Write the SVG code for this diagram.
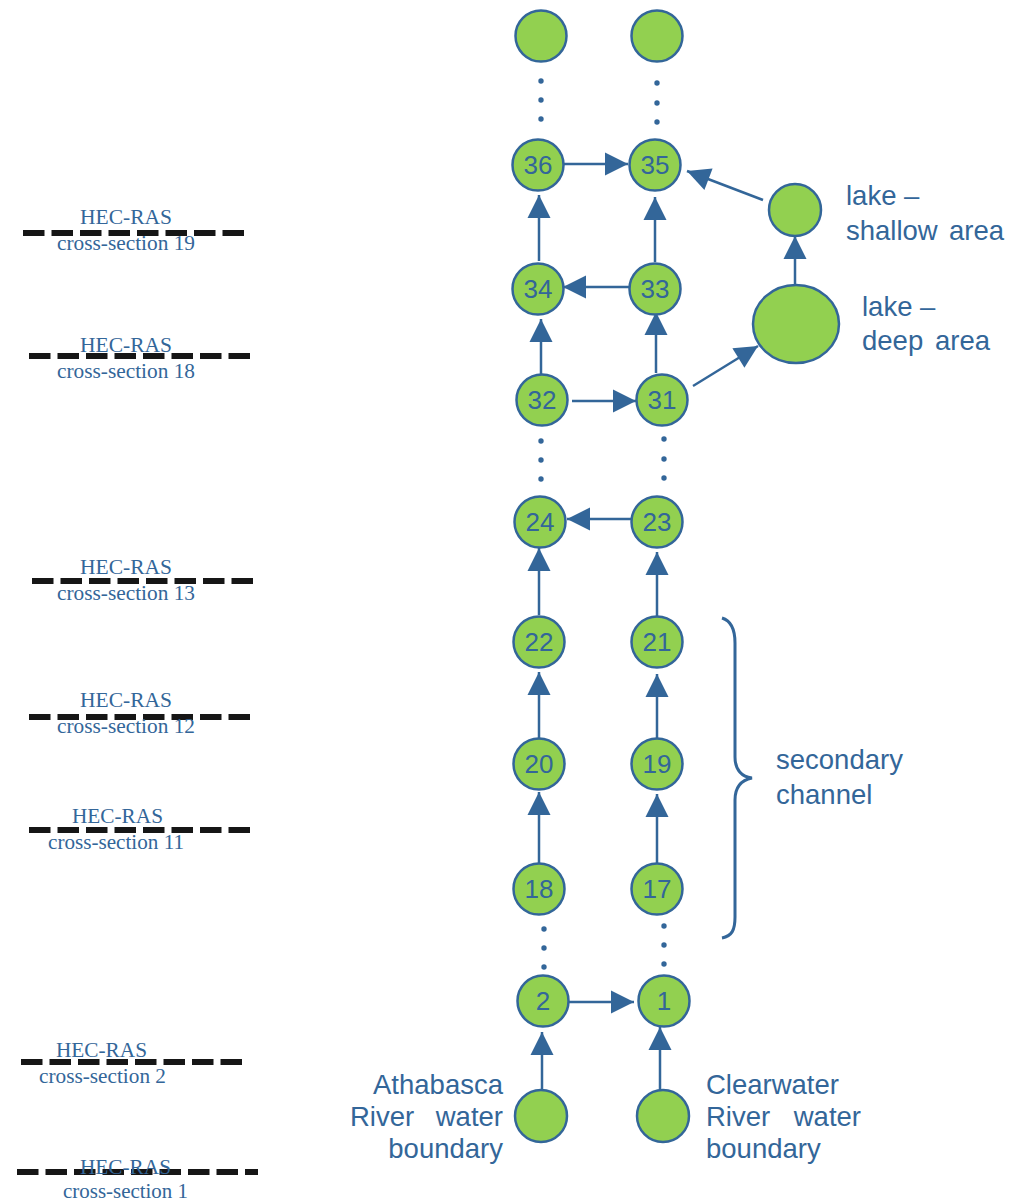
<svg xmlns="http://www.w3.org/2000/svg" width="1019" height="1203" viewBox="0 0 1019 1203">
<style>
.n{fill:#92D050;stroke:#336699;stroke-width:2.5}
.num{font-family:"Liberation Sans",Arial,sans-serif;font-size:26px;fill:#336699;text-anchor:middle}
.lbl{font-family:"Liberation Sans",Arial,sans-serif;font-size:27.5px;fill:#336699}
.hec{font-family:"Liberation Serif","Times New Roman",serif;font-size:20px;fill:#336699}
.cs{stroke:#161616;stroke-width:6;stroke-dasharray:21.5 7;fill:none}
.c{stroke:#336699;stroke-width:2.5;fill:none;marker-end:url(#ah)}
.dot{fill:#336699}
.brace{stroke:#336699;stroke-width:3;fill:none}
</style>
<defs>
<marker id="ah" markerUnits="userSpaceOnUse" markerWidth="24" markerHeight="24" viewBox="0 0 23 24" refX="23" refY="12" orient="auto">
<path d="M0,0.5 L23,12 L0,23.5 z" fill="#336699"/>
</marker>
</defs>
<rect width="1019" height="1203" fill="#fff"/>

<g id="cross-sections">
<line class="cs" x1="23" y1="233" x2="246" y2="233"/>
<text class="hec" x="80" y="224" textLength="92" lengthAdjust="spacingAndGlyphs">HEC-RAS</text>
<text class="hec" x="57" y="250" textLength="138" lengthAdjust="spacingAndGlyphs">cross-section 19</text>
<line class="cs" x1="29" y1="356" x2="251" y2="356"/>
<text class="hec" x="80" y="352" textLength="92" lengthAdjust="spacingAndGlyphs">HEC-RAS</text>
<text class="hec" x="57" y="378" textLength="138" lengthAdjust="spacingAndGlyphs">cross-section 18</text>
<line class="cs" x1="32" y1="581" x2="254" y2="581"/>
<text class="hec" x="80" y="574" textLength="92" lengthAdjust="spacingAndGlyphs">HEC-RAS</text>
<text class="hec" x="57" y="600" textLength="138" lengthAdjust="spacingAndGlyphs">cross-section 13</text>
<line class="cs" x1="29" y1="717" x2="251" y2="717"/>
<text class="hec" x="80" y="707" textLength="92" lengthAdjust="spacingAndGlyphs">HEC-RAS</text>
<text class="hec" x="57" y="733" textLength="138" lengthAdjust="spacingAndGlyphs">cross-section 12</text>
<line class="cs" x1="29" y1="830" x2="251" y2="830"/>
<text class="hec" x="72" y="823" textLength="91" lengthAdjust="spacingAndGlyphs">HEC-RAS</text>
<text class="hec" x="48" y="849" textLength="136" lengthAdjust="spacingAndGlyphs">cross-section 11</text>
<line class="cs" x1="21" y1="1062" x2="242" y2="1062"/>
<text class="hec" x="56" y="1057" textLength="91" lengthAdjust="spacingAndGlyphs">HEC-RAS</text>
<text class="hec" x="39" y="1083" textLength="127" lengthAdjust="spacingAndGlyphs">cross-section 2</text>
<line class="cs" x1="17" y1="1172" x2="258" y2="1172"/>
<text class="hec" x="80" y="1174" textLength="91" lengthAdjust="spacingAndGlyphs">HEC-RAS</text>
<text class="hec" x="63" y="1198" textLength="125" lengthAdjust="spacingAndGlyphs">cross-section 1</text>
</g>

<g id="connectors">
<line class="c" x1="564" y1="164" x2="628" y2="164"/>
<line class="c" x1="763" y1="200" x2="687" y2="171"/>
<line class="c" x1="539" y1="261" x2="539" y2="195"/>
<line class="c" x1="655" y1="262" x2="655" y2="197"/>
<line class="c" x1="629" y1="287" x2="563" y2="287"/>
<line class="c" x1="795" y1="285" x2="795" y2="236"/>
<line class="c" x1="541" y1="387" x2="541" y2="319"/>
<line class="c" x1="656" y1="373" x2="656" y2="312"/>
<line class="c" x1="572" y1="401" x2="636" y2="401"/>
<line class="c" x1="693" y1="386" x2="758" y2="346"/>
<line class="c" x1="632" y1="519" x2="567" y2="519"/>
<line class="c" x1="539" y1="615" x2="539" y2="548"/>
<line class="c" x1="657" y1="617" x2="657" y2="552"/>
<line class="c" x1="539" y1="738" x2="539" y2="672"/>
<line class="c" x1="657" y1="738" x2="657" y2="674"/>
<line class="c" x1="539" y1="863" x2="539" y2="792"/>
<line class="c" x1="657" y1="863" x2="657" y2="794"/>
<line class="c" x1="569" y1="1002" x2="634" y2="1002"/>
<line class="c" x1="542" y1="1090" x2="542" y2="1032"/>
<line class="c" x1="660" y1="1090" x2="660" y2="1027"/>
</g>

<g id="ellipsis-dots">
<circle class="dot" cx="541" cy="81" r="2.7"/><circle class="dot" cx="541" cy="100" r="2.7"/><circle class="dot" cx="541" cy="119" r="2.7"/>
<circle class="dot" cx="657" cy="83" r="2.7"/><circle class="dot" cx="657" cy="103" r="2.7"/><circle class="dot" cx="657" cy="122" r="2.7"/>
<circle class="dot" cx="541" cy="441" r="2.7"/><circle class="dot" cx="541" cy="460" r="2.7"/><circle class="dot" cx="541" cy="479" r="2.7"/>
<circle class="dot" cx="664" cy="439" r="2.7"/><circle class="dot" cx="664" cy="459" r="2.7"/><circle class="dot" cx="664" cy="478" r="2.7"/>
<circle class="dot" cx="544" cy="929" r="2.7"/><circle class="dot" cx="544" cy="948" r="2.7"/><circle class="dot" cx="544" cy="967" r="2.7"/>
<circle class="dot" cx="664" cy="926" r="2.7"/><circle class="dot" cx="664" cy="945" r="2.7"/><circle class="dot" cx="664" cy="964" r="2.7"/>
</g>

<g id="node-top-left"><circle class="n" cx="541" cy="36" r="25.5"/></g>
<g id="node-top-right"><circle class="n" cx="657" cy="36" r="25.5"/></g>
<g id="node-36"><circle class="n" cx="538" cy="165" r="25.5"/><text class="num" x="538" y="174">36</text></g>
<g id="node-35"><circle class="n" cx="655" cy="165" r="25.5"/><text class="num" x="655" y="174">35</text></g>
<g id="node-lake-shallow"><circle class="n" cx="795" cy="210" r="26"/></g>
<g id="node-34"><circle class="n" cx="538" cy="289" r="25.5"/><text class="num" x="538" y="298">34</text></g>
<g id="node-33"><circle class="n" cx="655" cy="289" r="25.5"/><text class="num" x="655" y="298">33</text></g>
<g id="node-lake-deep"><ellipse class="n" cx="796" cy="324" rx="43" ry="39"/></g>
<g id="node-32"><circle class="n" cx="542" cy="400" r="25.5"/><text class="num" x="542" y="409">32</text></g>
<g id="node-31"><circle class="n" cx="662" cy="400" r="25.5"/><text class="num" x="662" y="409">31</text></g>
<g id="node-24"><circle class="n" cx="540" cy="522" r="25.5"/><text class="num" x="540" y="531">24</text></g>
<g id="node-23"><circle class="n" cx="657" cy="522" r="25.5"/><text class="num" x="657" y="531">23</text></g>
<g id="node-22"><circle class="n" cx="539" cy="642" r="25.5"/><text class="num" x="539" y="651">22</text></g>
<g id="node-21"><circle class="n" cx="657" cy="642" r="25.5"/><text class="num" x="657" y="651">21</text></g>
<g id="node-20"><circle class="n" cx="539" cy="764" r="25.5"/><text class="num" x="539" y="773">20</text></g>
<g id="node-19"><circle class="n" cx="657" cy="764" r="25.5"/><text class="num" x="657" y="773">19</text></g>
<g id="node-18"><circle class="n" cx="539" cy="889" r="25.5"/><text class="num" x="539" y="898">18</text></g>
<g id="node-17"><circle class="n" cx="657" cy="889" r="25.5"/><text class="num" x="657" y="898">17</text></g>
<g id="node-2"><circle class="n" cx="543" cy="1001" r="25.5"/><text class="num" x="543" y="1010">2</text></g>
<g id="node-1"><circle class="n" cx="664" cy="1001" r="25.5"/><text class="num" x="664" y="1010">1</text></g>
<g id="node-athabasca-boundary"><circle class="n" cx="541" cy="1116" r="26"/></g>
<g id="node-clearwater-boundary"><circle class="n" cx="663" cy="1116" r="26"/></g>

<g id="labels">
<text class="lbl" x="846" y="205">lake –</text>
<text class="lbl" x="846" y="240">shallow</text>
<text class="lbl" x="1004" y="240" text-anchor="end">area</text>
<text class="lbl" x="862" y="316">lake –</text>
<text class="lbl" x="862" y="350">deep</text>
<text class="lbl" x="990" y="350" text-anchor="end">area</text>
<text class="lbl" x="776" y="769">secondary</text>
<text class="lbl" x="776" y="804">channel</text>
<text class="lbl" x="503" y="1094" text-anchor="end">Athabasca</text>
<text class="lbl" x="350" y="1126">River</text>
<text class="lbl" x="503" y="1126" text-anchor="end">water</text>
<text class="lbl" x="503" y="1158" text-anchor="end">boundary</text>
<text class="lbl" x="706" y="1094">Clearwater</text>
<text class="lbl" x="706" y="1126">River</text>
<text class="lbl" x="861" y="1126" text-anchor="end">water</text>
<text class="lbl" x="706" y="1158">boundary</text>
</g>

<g id="brace">
<path class="brace" d="M722,618 C732,621 735,630 735,643 L735,757 C735,770 742,777 752,778 C742,780 735,787 735,800 L735,917 C735,930 732,936 722,938"/>
</g>
</svg>
